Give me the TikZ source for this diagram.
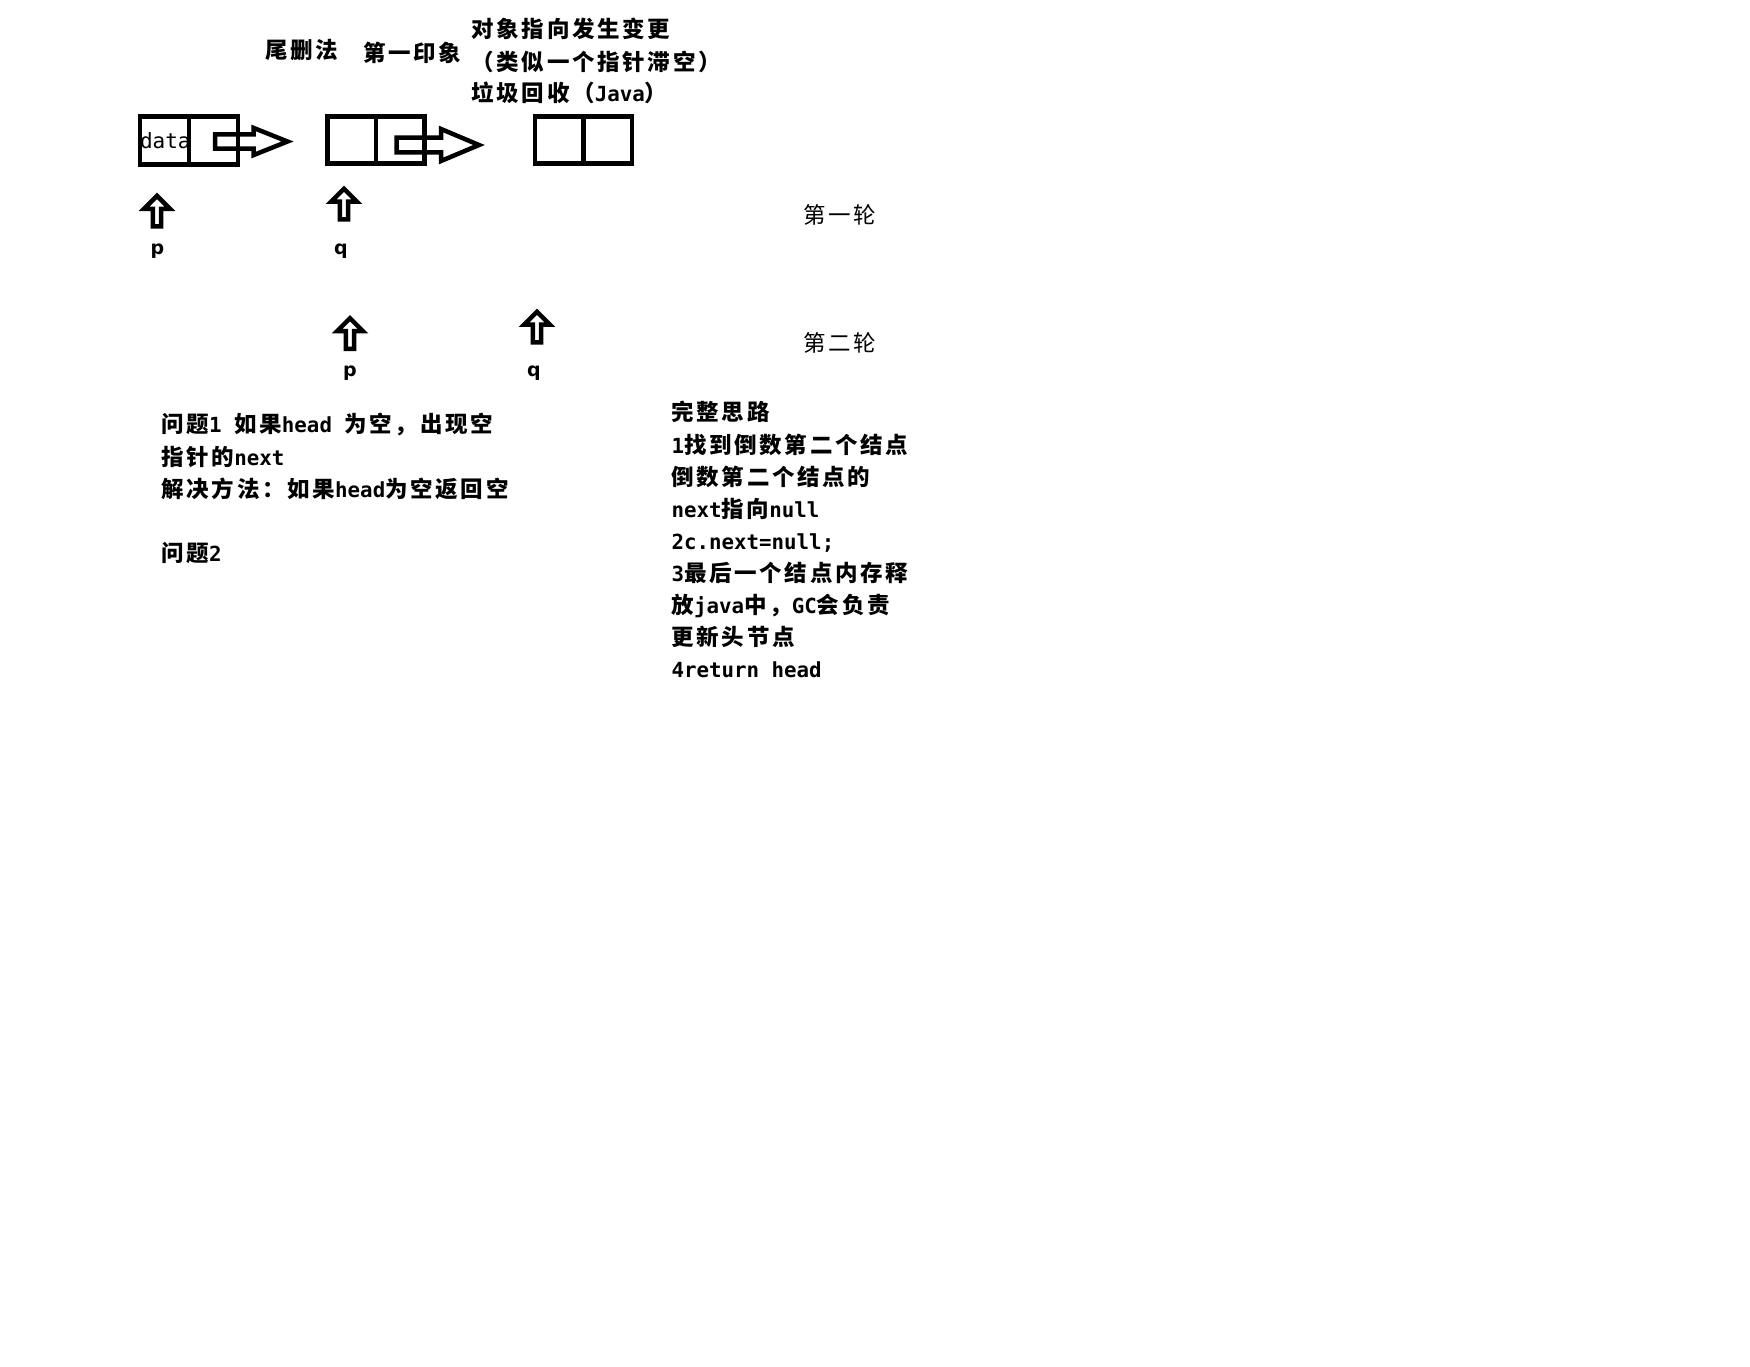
\documentclass[tikz,border=0pt]{standalone}
\usepackage{fontspec}
\newfontfamily\zhfont[LetterSpace=12]{Noto Sans CJK SC}
\newfontfamily\enfont{DejaVu Sans Mono}
\newfontfamily\lblfont{DejaVu Sans}
\newcommand\zh[1]{{\zhfont\bfseries\fontsize{22.5}{27}\selectfont #1}}
\newcommand\zhr[1]{{\zhfont\fontsize{22.5}{27}\selectfont #1}}
\newcommand\en[1]{{\enfont\bfseries\fontsize{20.8}{27}\selectfont #1}}
\begin{document}
\begin{tikzpicture}[x=1pt,y=-1pt,
  blk/.style={draw=black, line width=4.5pt, line join=miter},
  cell/.style={blk, rectangle, inner sep=0, outer sep=0},
  txt/.style={anchor=base west, inner sep=0, outer sep=0},
  lbl/.style={anchor=base, inner sep=0, outer sep=0, font=\lblfont\bfseries\fontsize{19}{19}\selectfont},
  uparrow/.pic={\draw[blk] (0,0) -- (13,13) -- (4.05,13) -- (4.05,30.55) -- (-4.05,30.55) -- (-4.05,13) -- (-13,13) -- cycle;}
]
\fill[white] (0,0) rectangle (1750,1367);
\useasboundingbox (0,0) rectangle (1750,1367);

% list cells
\node[cell, minimum width=98pt, minimum height=47.75pt] (b1) at (188.75,140.6) {};
\node[cell, minimum width=97pt, minimum height=47pt] (b2) at (376,140) {};
\node[cell, minimum width=97pt, minimum height=47pt] (b3) at (583.5,140) {};
\draw[blk] (b1.north) -- (b1.south);
\draw[blk] (b2.north) -- (b2.south);
\draw[blk] (b3.north) -- (b3.south);
\node[txt, font=\enfont\fontsize{21}{21}\selectfont] (data) at (140,148.3) {data};

% block arrows (next pointers)
\draw[blk] (215,134.3) -- (253.5,134.3) -- (253.5,127.9) -- (287.5,141.5) -- (253.5,155.1) -- (253.5,148.7) -- (215,148.7) -- cycle;
\draw[blk] (396.5,137.7) -- (441,137.7) -- (441,129) -- (479,145) -- (441,161) -- (441,152.3) -- (396.5,152.3) -- cycle;

% top notes
\node[txt] (t1) at (265,59) {\zh{尾删法}};
\node[txt] (t2) at (363,61.2) {\zh{第一印象}};
\node[txt] (t3) at (471.5,38) {\zh{对象指向发生变更}};
\node[txt] (t4) at (471.5,70.2) {\zh{（类似一个指针滞空）}};
\node[txt] (t5) at (471.5,101.5) {\zh{垃圾回收（}\en{Java}\zh{）}};

% pointers
\pic (pa1) at (157,195.9) {uparrow};
\pic (qa1) at (344,188.7) {uparrow};
\pic (pa2) at (350,318.2) {uparrow};
\pic (qa2) at (537,311.7) {uparrow};
\node[lbl] (p1) at (157.5,254.7) {p};
\node[lbl] (q1) at (341,254.7) {q};
\node[lbl] (p2) at (350,376.7) {p};
\node[lbl] (q2) at (534,376.7) {q};
\node[txt] (r1) at (803.5,223) {\zhr{第一轮}};
\node[txt] (r2) at (803.5,351.5) {\zhr{第二轮}};

% left notes
\node[txt] (l1) at (161.5,432.5) {\zh{问题}\en{1 }\zh{如果}\en{head }\zh{为空，出现空}};
\node[txt] (l2) at (161.5,465) {\zh{指针的}\en{next}};
\node[txt] (l3) at (161.5,497) {\zh{解决方法：如果}\en{head}\zh{为空返回空}};
\node[txt] (l4) at (161.5,561.3) {\zh{问题}\en{2}};

% right notes
\node[txt] (s1) at (671.5,420.7) {\zh{完整思路}};
\node[txt] (s2) at (671.5,453.1) {\en{1}\zh{找到倒数第二个结点}};
\node[txt] (s3) at (671.5,485.2) {\zh{倒数第二个结点的}};
\node[txt] (s4) at (671.5,517.6) {\en{next}\zh{指向}\en{null}};
\node[txt] (s5) at (671.5,549.7) {\en{2c.next=null;}};
\node[txt] (s6) at (671.5,581.6) {\en{3}\zh{最后一个结点内存释}};
\node[txt] (s7) at (671.5,613.8) {\zh{放}\en{java}\zh{中，}\en{GC}\zh{会负责}};
\node[txt] (s8) at (671.5,645.3) {\zh{更新头节点}};
\node[txt] (s9) at (671.5,677.3) {\en{4return head}};
\end{tikzpicture}
\end{document}
